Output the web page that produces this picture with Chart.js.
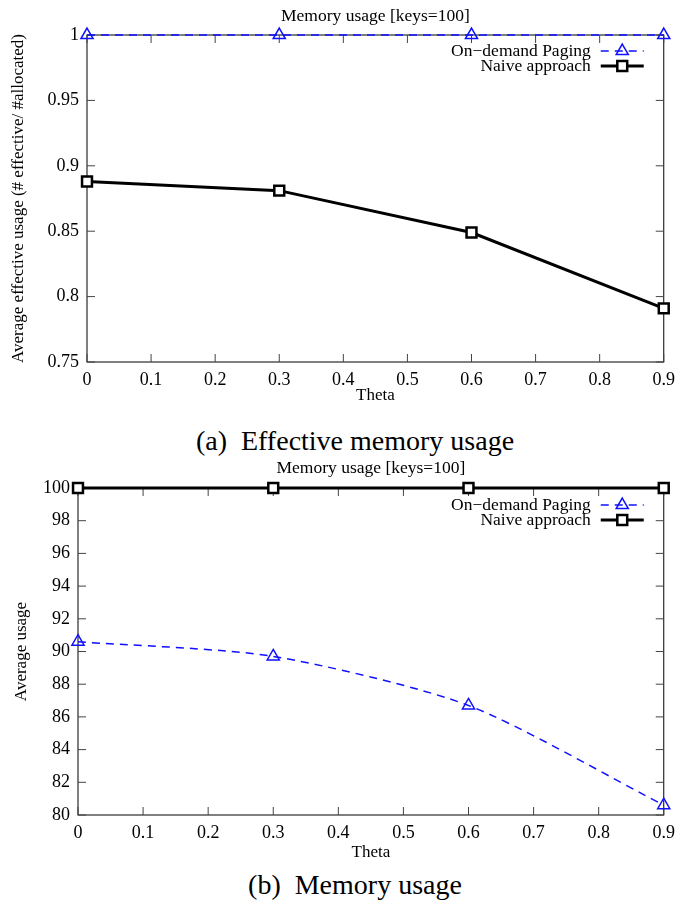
<!DOCTYPE html>
<html>
<head>
<meta charset="utf-8">
<script src="https://cdn.jsdelivr.net/npm/chart.js@4.4.0/dist/chart.umd.min.js"></script>
<style>
body { margin: 0; background: #fff; width: 682px; height: 905px; position: relative; overflow: hidden; font-family: 'Liberation Serif', serif; }
.box { position: absolute; left: 0; width: 682px; height: 410px; }
.cap { position: absolute; left: 14px; width: 682px; height: 32px; line-height: 32px; text-align: center; font-size: 28px; color: #000; }
</style>
</head>
<body>
<div class="box" style="top:0"><canvas id="chartA"></canvas></div>
<div class="cap" style="top:425px">(a)&nbsp; Effective memory usage</div>
<div class="box" style="top:455px"><canvas id="chartB"></canvas></div>
<div class="cap" style="top:869px">(b)&nbsp; Memory usage</div>
<script>
// dati
const theta = [0, 0.3, 0.6, 0.9];
const xTicks = [0, 0.1, 0.2, 0.3, 0.4, 0.5, 0.6, 0.7, 0.8, 0.9];

// (a) effective usage
const effOnDemand = [1, 1, 1, 1];
const effNaive = [0.888, 0.881, 0.849, 0.791];
const effTicks = [0.75, 0.8, 0.85, 0.9, 0.95, 1];

// (b) usage
const useOnDemand = [90.6, 89.7, 86.7, 80.6];
const useNaive = [100, 100, 100, 100];
const useTicks = [80, 82, 84, 86, 88, 90, 92, 94, 96, 98, 100];

const seriesNames = ['On\u2212demand Paging', 'Naive approach'];
const BLUE = '#1010ff';
const SERIF = "'Liberation Serif', 'Times New Roman', serif";

Chart.defaults.font.family = SERIF;
Chart.defaults.color = '#000';

function toPoints(ys) {
    return theta.map((t, i) => ({ x: t, y: ys[i] }));
}

// riquadro, tacche interne e titolo stile gnuplot
const gnuplotFrame = {
    id: 'gnuplotFrame',
    beforeDatasetsDraw(chart, args, opts) {
        const { ctx, chartArea: a, scales } = chart;
        ctx.save();
        ctx.strokeStyle = '#000';
        ctx.lineWidth = 1;
        ctx.strokeRect(a.left, a.top, a.right - a.left, a.bottom - a.top);
        ctx.strokeStyle = '#444';
        const tl = 8;
        ctx.beginPath();
        scales.x.ticks.forEach(t => {
            const px = scales.x.getPixelForValue(t.value);
            ctx.moveTo(px, a.bottom); ctx.lineTo(px, a.bottom - tl);
            ctx.moveTo(px, a.top); ctx.lineTo(px, a.top + tl);
        });
        scales.y.ticks.forEach(t => {
            const py = scales.y.getPixelForValue(t.value);
            ctx.moveTo(a.left, py); ctx.lineTo(a.left + tl, py);
            ctx.moveTo(a.right, py); ctx.lineTo(a.right - tl, py);
        });
        ctx.stroke();
        ctx.restore();
    },
    afterDraw(chart, args, opts) {
        const { ctx, chartArea: a } = chart;
        ctx.save();
        ctx.fillStyle = '#000';
        ctx.font = '17.5px ' + SERIF;
        ctx.textAlign = 'center';
        ctx.textBaseline = 'middle';
        ctx.fillText(opts.title, (a.left + a.right) / 2, a.top - opts.titleGap);

        // legenda dentro al grafico, in alto a destra
        const textX = a.right - 73;
        const x0 = a.right - 63, x1 = a.right - 20;
        ctx.textAlign = 'right';
        chart.data.datasets.forEach((ds, i) => {
            const y = a.top + opts.legendY[i];
            ctx.fillStyle = '#000';
            ctx.fillText(ds.label, textX, y);
            ctx.strokeStyle = ds.borderColor;
            ctx.lineWidth = ds.borderWidth;
            ctx.setLineDash(ds.borderDash || []);
            ctx.beginPath();
            ctx.moveTo(x0, y); ctx.lineTo(x1, y);
            ctx.stroke();
            ctx.setLineDash([]);
            ctx.fillStyle = ds.pointBackgroundColor;
            ctx.strokeStyle = ds.pointBorderColor;
            ctx.lineWidth = ds.pointBorderWidth;
            Chart.helpers.drawPoint(ctx, {
                pointStyle: ds.pointStyle, radius: ds.pointRadius, borderWidth: ds.pointBorderWidth, rotation: 0
            }, (x0 + x1) / 2, y);
        });
        ctx.restore();
    }
};

function makeChart(id, cfg) {
    const datasets = [
        {
            label: seriesNames[0],
            data: toPoints(cfg.onDemand),
            borderColor: BLUE,
            backgroundColor: 'rgba(0,0,0,0)',
            borderWidth: 1.5,
            borderDash: [8, 6],
            pointStyle: 'triangle',
            pointRadius: 7,
            pointBorderWidth: 1.5,
            pointBorderColor: BLUE,
            pointBackgroundColor: 'rgba(0,0,0,0)',
            tension: cfg.tension,
            clip: false,
            order: cfg.blueOrder
        },
        {
            label: seriesNames[1],
            data: toPoints(cfg.naive),
            borderColor: '#000',
            backgroundColor: 'rgba(0,0,0,0)',
            borderWidth: 3,
            pointStyle: 'rect',
            pointRadius: 7,
            pointBorderWidth: 2.5,
            pointBorderColor: '#000',
            pointBackgroundColor: '#fff',
            tension: 0,
            clip: false,
            order: 1
        }
    ];

    return new Chart(document.getElementById(id), {
        type: 'line',
        data: { datasets },
        options: {
            responsive: true,
            maintainAspectRatio: false,
            animation: false,
            layout: { padding: { top: cfg.top, right: 12, left: 0, bottom: 0 } },
            plugins: {
                legend: { display: false },
                tooltip: { enabled: false },
                gnuplotFrame: { title: 'Memory usage [keys=100]', titleGap: cfg.titleGap, legendY: cfg.legendY }
            },
            scales: {
                x: {
                    type: 'linear',
                    min: 0,
                    max: 0.9,
                    grid: { display: false, drawTicks: false },
                    border: { display: false },
                    afterBuildTicks: s => { s.ticks = xTicks.map(v => ({ value: v })); },
                    afterFit: s => { s.height = cfg.xHeight; },
                    ticks: { padding: 7, font: { family: SERIF, size: 18 }, maxRotation: 0, autoSkip: false, callback: v => String(v) },
                    title: { display: true, text: 'Theta', font: { family: SERIF, size: 17 }, padding: { top: 0, bottom: cfg.xTitlePad } }
                },
                y: {
                    min: cfg.yTicks[0],
                    max: cfg.yTicks[cfg.yTicks.length - 1],
                    grid: { display: false, drawTicks: false },
                    border: { display: false },
                    afterBuildTicks: s => { s.ticks = cfg.yTicks.map(v => ({ value: v })); },
                    afterFit: s => { s.width = cfg.left; },
                    ticks: { padding: 8, font: { family: SERIF, size: 18 }, autoSkip: false, callback: v => String(v) },
                    title: { display: true, text: cfg.yTitle, font: { family: SERIF, size: 17 }, padding: { top: cfg.yTitlePad, bottom: 0 } }
                }
            }
        },
        plugins: [gnuplotFrame]
    });
}

makeChart('chartA', {
    onDemand: effOnDemand, naive: effNaive, yTicks: effTicks,
    yTitle: 'Average effective usage (# effective/ #allocated)',
    top: 35, left: 87, xHeight: 48, xTitlePad: 4, yTitlePad: 8, titleGap: 19,
    legendY: [16, 31], tension: 0, blueOrder: 0
});

makeChart('chartB', {
    onDemand: useOnDemand, naive: useNaive, yTicks: useTicks,
    yTitle: 'Average usage',
    top: 33, left: 78, xHeight: 50, xTitlePad: 2, yTitlePad: 11, titleGap: 20,
    legendY: [17, 32], tension: 0.25, blueOrder: 2
});
</script>
</body>
</html>
